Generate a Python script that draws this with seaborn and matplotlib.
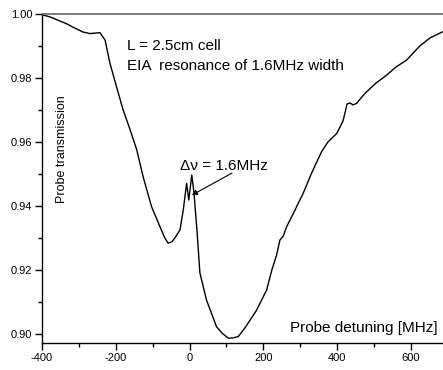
import matplotlib
matplotlib.use("Agg")
import matplotlib.pyplot as plt
import seaborn as sns
import pandas as pd

detuning = [-400, -378, -351, -332, -311, -289, -270, -251, -243, -229, -216, -198,
            -180, -161, -143, -126, -103, -80, -67, -58, -48, -40, -26, -17, -8,
            -2, 6, 12, 20, 28, 46, 73, 88, 105, 118, 132, 150, 182, 209, 223, 236,
            245, 254, 263, 286, 308, 332, 358, 375, 399, 416, 427, 435, 443, 453,
            467, 480, 505, 534, 559, 588, 624, 651, 687]
transmission = [0.9998, 0.9991, 0.9978, 0.9969, 0.9956, 0.9944, 0.9939, 0.9941, 0.9942,
                0.9919, 0.9847, 0.9773, 0.9700, 0.9638, 0.9575, 0.9492, 0.9398, 0.9335,
                0.9300, 0.9284, 0.9288, 0.9300, 0.9325, 0.9388, 0.9471, 0.9419, 0.9497,
                0.9441, 0.9325, 0.9191, 0.9106, 0.9023, 0.9003, 0.8987, 0.8988, 0.8992,
                0.9019, 0.9075, 0.9138, 0.9200, 0.9247, 0.9294, 0.9306, 0.9335, 0.9388,
                0.9440, 0.9506, 0.9570, 0.9600, 0.9627, 0.9666, 0.9719, 0.9722, 0.9716,
                0.9721, 0.9741, 0.9757, 0.9784, 0.9809, 0.9834, 0.9856, 0.9900, 0.9925,
                0.9945]

xticks = [-400, -200, 0, 200, 400, 600]
yticks = [0.90, 0.92, 0.94, 0.96, 0.98, 1.00]
ytick_labels = ["0.90", "0.92", "0.94", "0.96", "0.98", "1.00"]

sns.set_style("ticks")
plt.rcParams['font.family'] = ['Liberation Sans', 'DejaVu Sans']
plt.rcParams['axes.unicode_minus'] = False
plt.rcParams['text.color'] = 'black'

df = pd.DataFrame({"detuning": detuning, "transmission": transmission})

fig = plt.figure(figsize=(4.43, 3.70), dpi=100)
ax = fig.add_axes([0.0948, 0.073, 0.9052, 0.889])
sns.lineplot(data=df, x="detuning", y="transmission", ax=ax, color="black",
             linewidth=1.0, estimator=None, sort=False)

ax.set_xlim(-400, 687)
ax.set_ylim(0.8972, 1.0)
ax.set_xticks(xticks)
ax.set_xticks([-300, -100, 100, 300, 500], minor=True)
ax.set_yticks(yticks)
ax.set_yticklabels(ytick_labels)
ax.set_yticks([0.91, 0.93, 0.95, 0.97, 0.99], minor=True)
ax.tick_params(axis="both", which="major", direction="out", length=5, width=1,
               labelsize=8, colors="black", pad=2)
ax.tick_params(axis="both", which="minor", direction="out", length=3, width=1,
               colors="black")
ax.set_xlabel("")
ax.set_ylabel("")

for side in ["left", "bottom"]:
    ax.spines[side].set_color("black")
    ax.spines[side].set_linewidth(1)
ax.spines["top"].set_visible(True)
ax.spines["top"].set_color("#666666")
ax.spines["top"].set_linewidth(1.2)
ax.spines["right"].set_visible(False)

ax.text(-170, 0.9900, "L = 2.5cm cell", fontsize=11, ha="left", va="center", color="black")
ax.text(-170, 0.98375, "EIA  resonance of 1.6MHz width", fontsize=11, ha="left",
        va="center", color="black")
ax.text(-346, 0.9578, "Probe transmission", fontsize=9, rotation=90,
        ha="center", va="center", color="black")
ax.text(673, 0.9019, "Probe detuning [MHz]", fontsize=11, ha="right", va="center",
        color="black")
ax.text(93, 0.9525, "\u0394\u03bd = 1.6MHz", fontsize=11, ha="center", va="center",
        color="black")
ax.annotate("", xy=(6, 0.9434), xytext=(115, 0.9503),
            arrowprops=dict(arrowstyle="-|>", color="black", lw=0.8,
                            mutation_scale=8, shrinkA=0, shrinkB=0))

fig.savefig("out.png", dpi=100)
